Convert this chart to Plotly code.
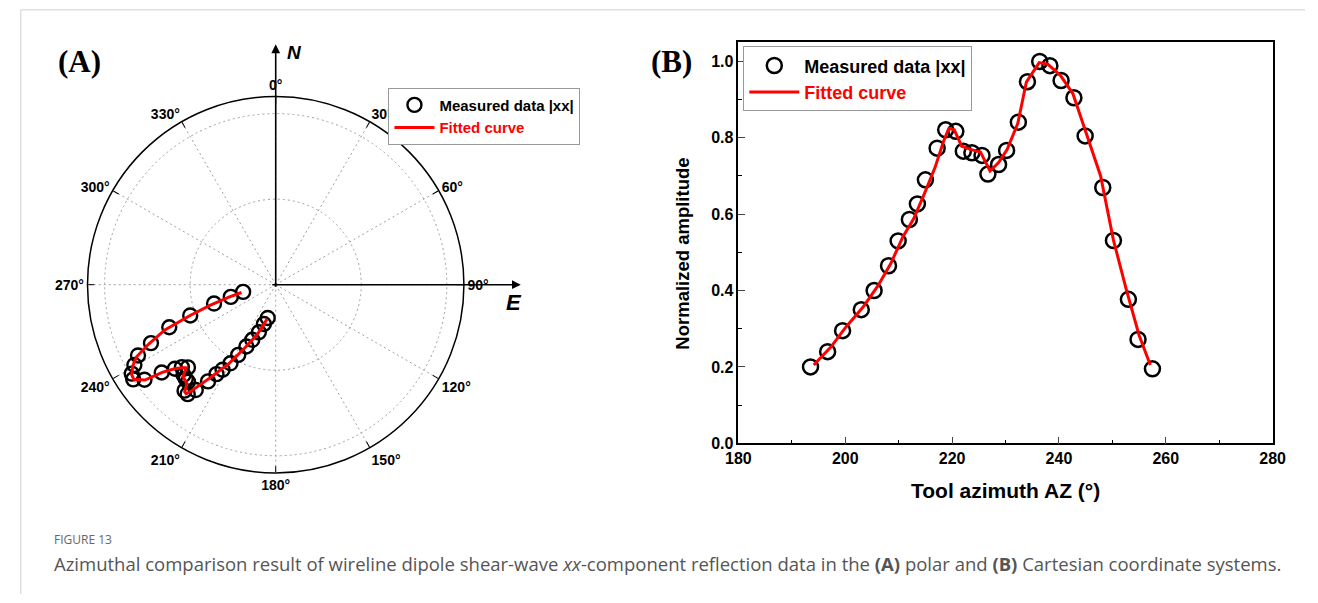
import plotly.graph_objects as go

# Measured |xx| reflection amplitude versus tool azimuth (degrees)
azimuth = [193.5, 196.7, 199.5, 203.0, 205.4, 208.1, 209.9, 212.0, 213.5, 215.0,
           217.2, 218.8, 220.7, 222.1, 223.7, 225.6, 226.7, 228.7, 230.2, 232.4,
           234.1, 236.4, 238.3, 240.4, 242.8, 244.9, 248.2, 250.2, 253.0, 254.8, 257.5]
amplitude = [0.200, 0.240, 0.295, 0.350, 0.400, 0.465, 0.530, 0.586, 0.627, 0.690,
             0.773, 0.821, 0.817, 0.765, 0.761, 0.754, 0.705, 0.730, 0.767, 0.841,
             0.947, 1.000, 0.989, 0.950, 0.905, 0.805, 0.670, 0.531, 0.377, 0.272, 0.195]

# Fitted curve
fit_azimuth = [194.1, 197.3, 200.1, 203.3, 206.1, 208.5, 210.8, 212.8, 214.8, 216.8,
               218.4, 219.4, 220.4, 221.8, 223.6, 225.3, 227.1, 228.7, 230.3, 232.3,
               233.9, 236.3, 237.9, 240.3, 242.6, 245.0, 247.8, 250.2, 252.6, 255.0, 257.1]
fit_amplitude = [0.205, 0.252, 0.304, 0.356, 0.412, 0.470, 0.541, 0.588, 0.653, 0.722,
                 0.791, 0.825, 0.821, 0.778, 0.769, 0.763, 0.713, 0.735, 0.769, 0.838,
                 0.946, 0.997, 0.993, 0.963, 0.916, 0.817, 0.700, 0.532, 0.403, 0.283, 0.205]

angle_ticks = list(range(0, 360, 30))
angle_labels = [f"{a}°" for a in angle_ticks]
x_ticks = [180, 200, 220, 240, 260, 280]
y_ticks = [0.0, 0.2, 0.4, 0.6, 0.8, 1.0]
y_labels = ["0.0", "0.2", "0.4", "0.6", "0.8", "1.0"]

W, H = 1318, 603
ARIAL = "Arial, Liberation Sans, sans-serif"
SERIF = "Times New Roman, Liberation Serif, serif"
CAPTION = "Open Sans, sans-serif"


def px(x):
    return x / W


def py(y):
    return 1 - y / H


# polar panel geometry (pixels)
cx, cy, R = 268, 289, 192

fig = go.Figure()

fig.add_trace(go.Scatterpolar(
    theta=azimuth, r=amplitude, mode="markers", name="Measured data |xx|",
    marker=dict(symbol="circle-open", size=14, color="black", line=dict(width=2.4)),
    legend="legend", subplot="polar"))
fig.add_trace(go.Scatterpolar(
    theta=fit_azimuth, r=fit_amplitude, mode="lines",
    name="<span style='color:#ff0000'>Fitted curve</span>",
    line=dict(color="#ff0000", width=3), legend="legend", subplot="polar"))

fig.add_trace(go.Scatter(
    x=azimuth, y=amplitude, mode="markers", name="Measured data |xx|",
    marker=dict(symbol="circle-open", size=15, color="black", line=dict(width=2.5)),
    legend="legend2", xaxis="x", yaxis="y"))
fig.add_trace(go.Scatter(
    x=fit_azimuth, y=fit_amplitude, mode="lines",
    name="<span style='color:#ff0000'>Fitted curve</span>",
    line=dict(color="#ff0000", width=3), legend="legend2", xaxis="x", yaxis="y"))

fig.update_layout(
    width=W, height=H,
    margin=dict(l=0, r=0, t=0, b=0),
    paper_bgcolor="white", plot_bgcolor="white",
    font=dict(family=ARIAL, color="black"),
    polar=dict(
        domain=dict(x=[px(cx - R), px(cx + R)], y=[py(cy + R), py(cy - R)]),
        bgcolor="white",
        angularaxis=dict(
            rotation=90, direction="clockwise",
            tickvals=angle_ticks, ticktext=angle_labels,
            tickfont=dict(family=ARIAL, size=14, color="black", weight="bold"),
            ticks="inside", ticklen=6, tickwidth=1.2, tickcolor="black",
            showline=True, linecolor="black", linewidth=1.5,
            showgrid=True, gridcolor="#a0a0a0", griddash="2px,3px", gridwidth=1,
        ),
        radialaxis=dict(
            range=[0, 1.1], tickvals=[0.5, 1.0], showticklabels=False,
            ticks="", showline=False,
            showgrid=True, gridcolor="#a0a0a0", griddash="2px,3px", gridwidth=1,
        ),
    ),
    xaxis=dict(
        domain=[px(740), px(1285)], range=[180, 280],
        tickvals=x_ticks, ticks="inside", ticklen=7, tickwidth=1.3,
        minor=dict(dtick=10, ticks="inside", ticklen=4, tickwidth=1.2, tickcolor="black"),
        showline=True, linecolor="black", linewidth=1.5, mirror=True,
        showgrid=False, zeroline=False,
        tickfont=dict(family=ARIAL, size=16, weight="bold"),
    ),
    yaxis=dict(
        domain=[py(450), py(43)], range=[0, 1.05],
        tickvals=y_ticks, ticktext=y_labels, ticks="inside", ticklen=7, tickwidth=1.3,
        minor=dict(dtick=0.1, ticks="inside", ticklen=4, tickwidth=1.2, tickcolor="black"),
        showline=True, linecolor="black", linewidth=1.5, mirror=True,
        showgrid=False, zeroline=False,
        tickfont=dict(family=ARIAL, size=16, weight="bold"),
    ),
    legend=dict(
        x=px(383), y=py(89), xanchor="left", yanchor="top",
        bgcolor="white", bordercolor="#999999", borderwidth=1,
        font=dict(family=ARIAL, size=15, weight="bold", color="black"),
        itemwidth=40, tracegroupgap=0,
    ),
    legend2=dict(
        x=px(745), y=py(47), xanchor="left", yanchor="top",
        bgcolor="white", bordercolor="#999999", borderwidth=1,
        font=dict(family=ARIAL, size=18, weight="bold", color="black"),
        itemwidth=50, tracegroupgap=0,
    ),
    showlegend=True,
)


def label(x, y, text, size, family=ARIAL, **kw):
    d = dict(x=px(x), y=py(y), xref="paper", yref="paper", text=text, showarrow=False,
             xanchor="center", yanchor="middle", font=dict(family=family, size=size))
    d.update(kw)
    return d


annotations = [
    # north and east reference axes
    dict(x=px(cx), y=py(45), xref="paper", yref="paper", text="", showarrow=True,
         ax=0, ay=cy - 45, arrowhead=2, arrowsize=1.1, arrowwidth=1.6, arrowcolor="black",
         standoff=0, startstandoff=0),
    dict(x=px(518), y=py(cy), xref="paper", yref="paper", text="", showarrow=True,
         ax=-(518 - cx), ay=0, arrowhead=2, arrowsize=1.1, arrowwidth=1.6, arrowcolor="black",
         standoff=0, startstandoff=0),
    label(287, 53, "<b><i>N</i></b>", 19),
    label(511, 307, "<b><i>E</i></b>", 22),
    label(68, 62, "<b>(A)</b>", 31, SERIF),
    label(672, 62, "<b>(B)</b>", 31, SERIF),
    label(1012, 498, "<b>Tool azimuth AZ (°)</b>", 21),
    label(683, 258, "<b>Normalized amplitude</b>", 18.5, textangle=-90),
    dict(x=px(40), y=py(548), xref="paper", yref="paper", xanchor="left", yanchor="middle",
         text="FIGURE 13", showarrow=False,
         font=dict(family=CAPTION, size=12, color="#666666")),
    dict(x=px(40), y=py(572), xref="paper", yref="paper", xanchor="left", yanchor="middle",
         text="Azimuthal comparison result of wireline dipole shear-wave <i>xx</i>-component "
              "reflection data in the <b>(A)</b> polar and <b>(B)</b> Cartesian coordinate systems.",
         showarrow=False, font=dict(family=CAPTION, size=18.5, color="#555555")),
]
fig.update_layout(annotations=annotations)

fig.update_layout(shapes=[
    dict(type="line", xref="paper", yref="paper", x0=px(8), x1=1, y0=py(10), y1=py(10),
         line=dict(color="#d0d0d0", width=1)),
    dict(type="line", xref="paper", yref="paper", x0=px(8), x1=px(8), y0=py(10), y1=0,
         line=dict(color="#d0d0d0", width=1)),
])

fig.write_html("out.html")
